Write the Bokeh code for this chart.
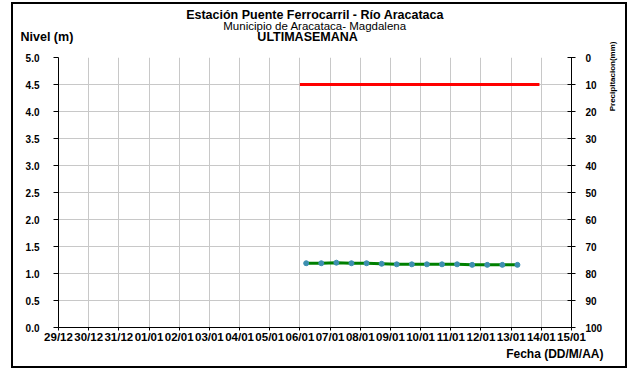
import math
import pandas as pd
from bokeh.plotting import figure
from bokeh.layouts import row
from bokeh.models import (Range1d, LinearAxis, FixedTicker, DatetimeTickFormatter,
                          NumeralTickFormatter, Title)
from bokeh.embed import file_html
from bokeh.resources import INLINE

# ---- data ----
axis_start = "2014-12-29"
axis_end = "2015-01-15"
tick_days = pd.date_range(axis_start, axis_end, freq="D")

level_times = pd.date_range("2015-01-06 05:00", periods=15, freq="12h")
level_values = [1.19, 1.19, 1.20, 1.19, 1.19, 1.18, 1.17, 1.17, 1.17, 1.17,
                1.17, 1.16, 1.16, 1.16, 1.16]

alert_times = pd.to_datetime(["2015-01-06 00:00", "2015-01-13 22:30"])
alert_values = [4.5, 4.5]

level_ticks = [0.0, 0.5, 1.0, 1.5, 2.0, 2.5, 3.0, 3.5, 4.0, 4.5, 5.0]
precip_ticks = [0, 10, 20, 30, 40, 50, 60, 70, 80, 90, 100]

title_1 = "Estación Puente Ferrocarril - Río Aracataca"
title_2 = "Municipio de Aracataca- Magdalena"
title_3 = "ULTIMASEMANA"
y_label = "Nivel (m)"
x_label = "Fecha (DD/M/AA)"
y2_label = "Precipitacion(mm)"

FONT = "Liberation Sans"
NBSP = "\u00a0"
H = 362

p = figure(width=592, height=H, output_backend="svg", toolbar_location=None,
           x_axis_type="datetime",
           x_range=Range1d(pd.Timestamp(axis_start), pd.Timestamp(axis_end)),
           y_range=Range1d(0, 5),
           min_border_left=45, min_border_right=32, min_border_top=53,
           min_border_bottom=39)
p.outline_line_color = None
p.background_fill_color = "white"
p.border_fill_color = "white"

p.extra_y_ranges = {"precip": Range1d(100, 0)}

day_ticks = [t.value / 1e6 for t in tick_days]

# grids
p.xgrid.ticker = FixedTicker(ticks=day_ticks)
p.ygrid.ticker = FixedTicker(ticks=level_ticks)
p.xgrid.grid_line_color = "#c8c8c8"
p.ygrid.grid_line_color = "#c8c8c8"

# axes
xa = p.xaxis[0]
xa.ticker = FixedTicker(ticks=day_ticks)
xa.formatter = DatetimeTickFormatter(days="%d/%m", months="%d/%m", years="%d/%m",
                                     hours="%d/%m")
ya = p.yaxis[0]
ya.ticker = FixedTicker(ticks=level_ticks)
ya.formatter = NumeralTickFormatter(format="0.0")

ra = LinearAxis(y_range_name="precip", ticker=FixedTicker(ticks=precip_ticks))
p.add_layout(ra, "right")

for ax in (xa, ya, ra):
    ax.axis_line_color = "black"
    ax.major_tick_line_color = "black"
    ax.minor_tick_line_color = None
    ax.major_label_text_font = FONT
    ax.major_label_text_font_style = "bold"
    ax.major_label_text_color = "black"
    ax.major_label_text_font_size = "10px"

xa.major_tick_in = 0
xa.major_tick_out = 3
xa.major_label_text_font_size = "11.5px"
xa.major_label_standoff = 0
ya.major_tick_in = 0
ya.major_tick_out = 5
ya.major_label_standoff = 14
ra.major_tick_in = 4
ra.major_tick_out = 4
ra.major_label_standoff = 10

# data
p.line(alert_times, alert_values, line_color="red", line_width=3)
p.line(level_times, level_values, line_color="#008000", line_width=3)
p.scatter(level_times, level_values, size=5, fill_color="#3d8fb0",
          line_color="#3d8fb0")

# titles (first added = nearest to the frame)
def title(fig, text, size, style, align, offset, standoff, place="above"):
    fig.add_layout(Title(text=text, text_font=FONT, text_font_size=size,
                         text_font_style=style, align=align, offset=offset,
                         standoff=standoff, text_color="black"), place)

title(p, NBSP, "1px", "normal", "left", 0, 13)  # spacer above the frame
title(p, y_label + NBSP * 53 + title_3, "12.5px", "bold", "left", -38, -4)
title(p, title_2, "11.5px", "normal", "center", 0, -4)
title(p, title_1, "12.5px", "bold", "center", 0, -4)
title(p, x_label, "12px", "bold", "right", -32, -1, place="below")

# narrow side panel carrying the rotated secondary-axis title
side = figure(width=20, height=H, output_backend="svg", toolbar_location=None,
              x_range=Range1d(0, 1), y_range=Range1d(0, 1),
              x_axis_location=None, y_axis_location=None,
              min_border=0, min_border_left=0, min_border_right=0,
              min_border_top=0, min_border_bottom=0)
side.outline_line_color = None
side.grid.visible = False
side.background_fill_color = "white"
side.border_fill_color = "white"
title(side, y2_label, "8px", "bold", "right", -16, 0, place="left")

layout = row(p, side, spacing=0,
             styles={"border": "2px solid black", "margin-left": "11px",
                     "margin-top": "2px"})

open("out.html", "w").write(file_html(layout, INLINE))
